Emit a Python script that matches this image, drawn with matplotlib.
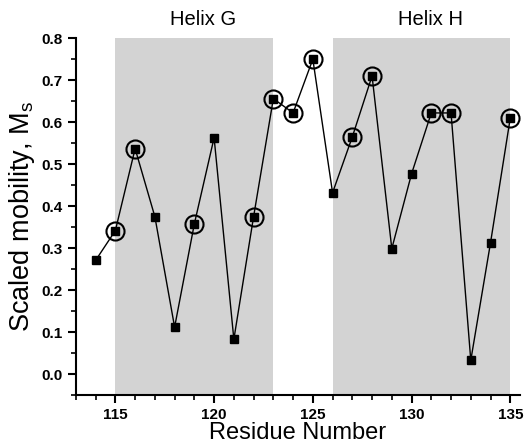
import matplotlib
matplotlib.use("Agg")
import matplotlib.pyplot as plt
from matplotlib.ticker import MultipleLocator
import numpy as np

residues = [114, 115, 116, 117, 118, 119, 120, 121, 122, 123, 124,
            125, 126, 127, 128, 129, 130, 131, 132, 133, 134, 135]
mobility = [0.271, 0.342, 0.537, 0.375, 0.112, 0.358, 0.563, 0.083, 0.375, 0.656, 0.622,
            0.750, 0.432, 0.565, 0.710, 0.299, 0.477, 0.622, 0.622, 0.033, 0.313, 0.610]
circled = [115, 116, 119, 122, 123, 124, 125, 127, 128, 131, 132, 135]
helix_names = ["Helix G", "Helix H"]
helix_ranges = [(115, 123), (126, 135)]

plt.rcParams['font.family'] = ['Liberation Sans', 'DejaVu Sans']

fig = plt.figure(figsize=(5.27, 4.44), dpi=100)
ax = fig.add_axes([0.144, 0.110, 0.843, 0.804])

label_x = [119.45, 130.95]
for (a, b), name, lx in zip(helix_ranges, helix_names, label_x):
    ax.axvspan(a, b, ymin=0, ymax=1, color='#d3d3d3', lw=0, zorder=0)
    ax.text(lx, 1.025, name, transform=ax.get_xaxis_transform(),
            ha='center', va='bottom', fontsize=14.5)

ax.plot(residues, mobility, color='black', lw=1.0, marker='s', ms=6,
        mfc='black', mec='black', zorder=3)
cx = [r for r in residues if r in circled]
cy = [m for r, m in zip(residues, mobility) if r in circled]
ax.plot(cx, cy, ls='none', marker='o', ms=13, mfc='none', mec='black', mew=1.5, zorder=4)

ax.set_xlim(113, 135.5)
ax.set_ylim(-0.05, 0.8)
ax.xaxis.set_major_locator(MultipleLocator(5))
ax.xaxis.set_minor_locator(MultipleLocator(1))
ax.yaxis.set_minor_locator(MultipleLocator(0.05))
ax.spines['top'].set_visible(False)
ax.spines['right'].set_visible(False)
for s in ['left', 'bottom']:
    ax.spines[s].set_linewidth(1.5)
ax.tick_params(which='major', direction='out', length=6, width=1.5, labelsize=11)
ax.tick_params(which='minor', direction='out', length=3.5, width=1.2)
yt = np.round(np.arange(0, 0.81, 0.1), 1)
ax.set_yticks(yt)
ax.set_yticklabels([f"{v:.1f}" for v in yt])
for lbl in ax.get_xticklabels() + ax.get_yticklabels():
    lbl.set_fontweight('bold')

ax.set_xlabel("Residue Number", fontsize=17, labelpad=0)
ax.set_ylabel("Scaled mobility, M$_\\mathregular{s}$", fontsize=19.5, labelpad=3)

fig.savefig("out.png", dpi=100)
